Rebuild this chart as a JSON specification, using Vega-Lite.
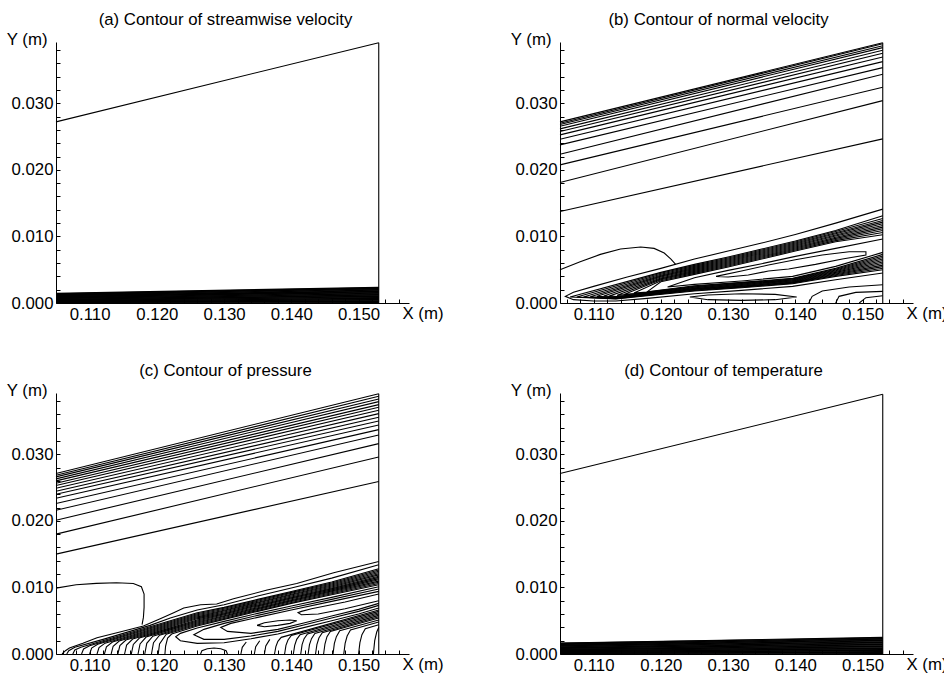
{
"$schema":"https://vega.github.io/schema/vega-lite/v6.json",
"padding":{"left":5,"top":12,"right":0,"bottom":0},
"config":{
 "view":{"stroke":null},
 "font":"Liberation Sans",
 "axis":{"domainColor":"black","tickColor":"black","labelColor":"black","titleColor":"black","labelFont":"Liberation Sans","titleFont":"Liberation Sans","labelFontSize":16.8,"titleFontSize":16.8,"titleFontWeight":"normal","tickSize":-4,"labelPadding":7,"grid":false,"labelOverlap":false,"labelFlush":false,"domainWidth":1,"tickWidth":1},
 "title":{"font":"Liberation Sans","fontSize":16.8,"fontWeight":"normal","color":"black","anchor":"middle","frame":"group","offset":2}
},
"data":{"values":[
{"p":"a","l":"t","s":0,"x":0.105,"y":0.0272},{"p":"a","l":"t","s":1,"x":0.153,"y":0.0391},
{"p":"a","l":"r","s":0,"x":0.153,"y":0},{"p":"a","l":"r","s":1,"x":0.153,"y":0.0391},
{"p":"a","l":"b0","s":0,"x":0.105,"y":0.00003},{"p":"a","l":"b0","s":1,"x":0.153,"y":0.00005},
{"p":"a","l":"b1","s":0,"x":0.105,"y":0.00009},{"p":"a","l":"b1","s":1,"x":0.153,"y":0.00014},
{"p":"a","l":"c1","s":0,"x":0.105,"y":0.00015},{"p":"a","l":"c1","s":1,"x":0.153,"y":0.00024},
{"p":"a","l":"b2","s":0,"x":0.105,"y":0.0002},{"p":"a","l":"b2","s":1,"x":0.153,"y":0.00033},
{"p":"a","l":"c2","s":0,"x":0.105,"y":0.00026},{"p":"a","l":"c2","s":1,"x":0.153,"y":0.00043},
{"p":"a","l":"b3","s":0,"x":0.105,"y":0.00032},{"p":"a","l":"b3","s":1,"x":0.153,"y":0.00052},
{"p":"a","l":"c3","s":0,"x":0.105,"y":0.00038},{"p":"a","l":"c3","s":1,"x":0.153,"y":0.00061},
{"p":"a","l":"b4","s":0,"x":0.105,"y":0.00044},{"p":"a","l":"b4","s":1,"x":0.153,"y":0.0007},
{"p":"a","l":"c4","s":0,"x":0.105,"y":0.0005},{"p":"a","l":"c4","s":1,"x":0.153,"y":0.0008},
{"p":"a","l":"b5","s":0,"x":0.105,"y":0.00055},{"p":"a","l":"b5","s":1,"x":0.153,"y":0.00089},
{"p":"a","l":"c5","s":0,"x":0.105,"y":0.00061},{"p":"a","l":"c5","s":1,"x":0.153,"y":0.00099},
{"p":"a","l":"b6","s":0,"x":0.105,"y":0.00067},{"p":"a","l":"b6","s":1,"x":0.153,"y":0.00108},
{"p":"a","l":"c6","s":0,"x":0.105,"y":0.00073},{"p":"a","l":"c6","s":1,"x":0.153,"y":0.00118},
{"p":"a","l":"b7","s":0,"x":0.105,"y":0.00078},{"p":"a","l":"b7","s":1,"x":0.153,"y":0.00127},
{"p":"a","l":"c7","s":0,"x":0.105,"y":0.00084},{"p":"a","l":"c7","s":1,"x":0.153,"y":0.00137},
{"p":"a","l":"b8","s":0,"x":0.105,"y":0.0009},{"p":"a","l":"b8","s":1,"x":0.153,"y":0.00146},
{"p":"a","l":"c8","s":0,"x":0.105,"y":0.00096},{"p":"a","l":"c8","s":1,"x":0.153,"y":0.00156},
{"p":"a","l":"b9","s":0,"x":0.105,"y":0.00102},{"p":"a","l":"b9","s":1,"x":0.153,"y":0.00165},
{"p":"a","l":"c9","s":0,"x":0.105,"y":0.00108},{"p":"a","l":"c9","s":1,"x":0.153,"y":0.00174},
{"p":"a","l":"b10","s":0,"x":0.105,"y":0.00113},{"p":"a","l":"b10","s":1,"x":0.153,"y":0.00183},
{"p":"a","l":"c10","s":0,"x":0.105,"y":0.00119},{"p":"a","l":"c10","s":1,"x":0.153,"y":0.00193},
{"p":"a","l":"b11","s":0,"x":0.105,"y":0.00125},{"p":"a","l":"b11","s":1,"x":0.153,"y":0.00202},
{"p":"a","l":"c11","s":0,"x":0.105,"y":0.0013},{"p":"a","l":"c11","s":1,"x":0.153,"y":0.00211},
{"p":"a","l":"b12","s":0,"x":0.105,"y":0.00135},{"p":"a","l":"b12","s":1,"x":0.153,"y":0.00219},
{"p":"a","l":"c12","s":0,"x":0.105,"y":0.0014},{"p":"a","l":"c12","s":1,"x":0.153,"y":0.00227},
{"p":"a","l":"b13","s":0,"x":0.105,"y":0.00145},{"p":"a","l":"b13","s":1,"x":0.153,"y":0.00235},

{"p":"d","l":"t","s":0,"x":0.105,"y":0.0271},{"p":"d","l":"t","s":1,"x":0.153,"y":0.039},
{"p":"d","l":"r","s":0,"x":0.153,"y":0},{"p":"d","l":"r","s":1,"x":0.153,"y":0.039},
{"p":"d","l":"b0","s":0,"x":0.105,"y":0.00003},{"p":"d","l":"b0","s":1,"x":0.153,"y":0.00005},
{"p":"d","l":"b1","s":0,"x":0.105,"y":0.0001},{"p":"d","l":"b1","s":1,"x":0.153,"y":0.00015},
{"p":"d","l":"c1","s":0,"x":0.105,"y":0.00017},{"p":"d","l":"c1","s":1,"x":0.153,"y":0.00025},
{"p":"d","l":"b2","s":0,"x":0.105,"y":0.00023},{"p":"d","l":"b2","s":1,"x":0.153,"y":0.00035},
{"p":"d","l":"c2","s":0,"x":0.105,"y":0.0003},{"p":"d","l":"c2","s":1,"x":0.153,"y":0.00045},
{"p":"d","l":"b3","s":0,"x":0.105,"y":0.00036},{"p":"d","l":"b3","s":1,"x":0.153,"y":0.00055},
{"p":"d","l":"c3","s":0,"x":0.105,"y":0.00043},{"p":"d","l":"c3","s":1,"x":0.153,"y":0.00065},
{"p":"d","l":"b4","s":0,"x":0.105,"y":0.0005},{"p":"d","l":"b4","s":1,"x":0.153,"y":0.00075},
{"p":"d","l":"c4","s":0,"x":0.105,"y":0.00057},{"p":"d","l":"c4","s":1,"x":0.153,"y":0.00085},
{"p":"d","l":"b5","s":0,"x":0.105,"y":0.00063},{"p":"d","l":"b5","s":1,"x":0.153,"y":0.00095},
{"p":"d","l":"c5","s":0,"x":0.105,"y":0.0007},{"p":"d","l":"c5","s":1,"x":0.153,"y":0.00105},
{"p":"d","l":"b6","s":0,"x":0.105,"y":0.00076},{"p":"d","l":"b6","s":1,"x":0.153,"y":0.00115},
{"p":"d","l":"c6","s":0,"x":0.105,"y":0.00083},{"p":"d","l":"c6","s":1,"x":0.153,"y":0.00125},
{"p":"d","l":"b7","s":0,"x":0.105,"y":0.00089},{"p":"d","l":"b7","s":1,"x":0.153,"y":0.00135},
{"p":"d","l":"c7","s":0,"x":0.105,"y":0.00096},{"p":"d","l":"c7","s":1,"x":0.153,"y":0.00145},
{"p":"d","l":"b8","s":0,"x":0.105,"y":0.00102},{"p":"d","l":"b8","s":1,"x":0.153,"y":0.00155},
{"p":"d","l":"c8","s":0,"x":0.105,"y":0.00109},{"p":"d","l":"c8","s":1,"x":0.153,"y":0.00165},
{"p":"d","l":"b9","s":0,"x":0.105,"y":0.00116},{"p":"d","l":"b9","s":1,"x":0.153,"y":0.00175},
{"p":"d","l":"c9","s":0,"x":0.105,"y":0.00123},{"p":"d","l":"c9","s":1,"x":0.153,"y":0.00185},
{"p":"d","l":"b10","s":0,"x":0.105,"y":0.00129},{"p":"d","l":"b10","s":1,"x":0.153,"y":0.00195},
{"p":"d","l":"c10","s":0,"x":0.105,"y":0.00136},{"p":"d","l":"c10","s":1,"x":0.153,"y":0.00205},
{"p":"d","l":"b11","s":0,"x":0.105,"y":0.00142},{"p":"d","l":"b11","s":1,"x":0.153,"y":0.00215},
{"p":"d","l":"c11","s":0,"x":0.105,"y":0.00148},{"p":"d","l":"c11","s":1,"x":0.153,"y":0.00224},
{"p":"d","l":"b12","s":0,"x":0.105,"y":0.00153},{"p":"d","l":"b12","s":1,"x":0.153,"y":0.00233},
{"p":"d","l":"c12","s":0,"x":0.105,"y":0.00159},{"p":"d","l":"c12","s":1,"x":0.153,"y":0.00242},
{"p":"d","l":"b13","s":0,"x":0.105,"y":0.00165},{"p":"d","l":"b13","s":1,"x":0.153,"y":0.0025},

{"p":"b","l":"r","s":0,"x":0.153,"y":0},{"p":"b","l":"r","s":1,"x":0.153,"y":0.0391},
{"p":"b","l":"u1","s":0,"x":0.105,"y":0.0272},{"p":"b","l":"u1","s":1,"x":0.153,"y":0.0391},
{"p":"b","l":"u2","s":0,"x":0.105,"y":0.027},{"p":"b","l":"u2","s":1,"x":0.153,"y":0.03895},
{"p":"b","l":"u3","s":0,"x":0.105,"y":0.0268},{"p":"b","l":"u3","s":1,"x":0.153,"y":0.03865},
{"p":"b","l":"u4","s":0,"x":0.105,"y":0.02655},{"p":"b","l":"u4","s":1,"x":0.153,"y":0.03835},
{"p":"b","l":"u5","s":0,"x":0.105,"y":0.02615},{"p":"b","l":"u5","s":1,"x":0.153,"y":0.03795},
{"p":"b","l":"u6","s":0,"x":0.105,"y":0.02575},{"p":"b","l":"u6","s":1,"x":0.153,"y":0.0375},
{"p":"b","l":"u7","s":0,"x":0.105,"y":0.02525},{"p":"b","l":"u7","s":1,"x":0.153,"y":0.03695},
{"p":"b","l":"u8","s":0,"x":0.105,"y":0.0246},{"p":"b","l":"u8","s":1,"x":0.153,"y":0.03625},
{"p":"b","l":"u9","s":0,"x":0.105,"y":0.02375},{"p":"b","l":"u9","s":1,"x":0.153,"y":0.03535},
{"p":"b","l":"u10","s":0,"x":0.105,"y":0.02235},{"p":"b","l":"u10","s":1,"x":0.153,"y":0.03435},
{"p":"b","l":"u11","s":0,"x":0.105,"y":0.02075},{"p":"b","l":"u11","s":1,"x":0.153,"y":0.0324},
{"p":"b","l":"u12","s":0,"x":0.105,"y":0.0181},{"p":"b","l":"u12","s":1,"x":0.153,"y":0.0304},
{"p":"b","l":"u13","s":0,"x":0.105,"y":0.01375},{"p":"b","l":"u13","s":1,"x":0.153,"y":0.02465},
{"p":"b","l":"bump","s":0,"x":0.105,"y":0.005},{"p":"b","l":"bump","s":1,"x":0.108,"y":0.0062},{"p":"b","l":"bump","s":2,"x":0.111,"y":0.0073},{"p":"b","l":"bump","s":3,"x":0.114,"y":0.0081},{"p":"b","l":"bump","s":4,"x":0.117,"y":0.0084},{"p":"b","l":"bump","s":5,"x":0.119,"y":0.0082},{"p":"b","l":"bump","s":6,"x":0.1205,"y":0.0075},{"p":"b","l":"bump","s":7,"x":0.1215,"y":0.0066},{"p":"b","l":"bump","s":8,"x":0.1222,"y":0.0058},
{"p":"b","l":"k1","s":0,"x":0.153,"y":0.0141},{"p":"b","l":"k1","s":1,"x":0.146,"y":0.012},{"p":"b","l":"k1","s":2,"x":0.14,"y":0.0103},{"p":"b","l":"k1","s":3,"x":0.135,"y":0.009},{"p":"b","l":"k1","s":4,"x":0.13,"y":0.0078},{"p":"b","l":"k1","s":5,"x":0.125,"y":0.0066},{"p":"b","l":"k1","s":6,"x":0.12,"y":0.0052},{"p":"b","l":"k1","s":7,"x":0.115,"y":0.0039},{"p":"b","l":"k1","s":8,"x":0.11,"y":0.0025},{"p":"b","l":"k1","s":9,"x":0.107,"y":0.0016},{"p":"b","l":"k1","s":10,"x":0.1058,"y":0.001},{"p":"b","l":"k1","s":11,"x":0.107,"y":0.0005},{"p":"b","l":"k1","s":12,"x":0.11,"y":0.0003},{"p":"b","l":"k1","s":13,"x":0.1133,"y":0.0003},{"p":"b","l":"k1","s":14,"x":0.118,"y":0.0007},{"p":"b","l":"k1","s":15,"x":0.125,"y":0.0014},{"p":"b","l":"k1","s":16,"x":0.132,"y":0.0019},{"p":"b","l":"k1","s":17,"x":0.1396,"y":0.0025},{"p":"b","l":"k1","s":18,"x":0.146,"y":0.0035},{"p":"b","l":"k1","s":19,"x":0.153,"y":0.0045},
{"p":"b","l":"k2","s":0,"x":0.153,"y":0.0131},{"p":"b","l":"k2","s":1,"x":0.146,"y":0.0109},{"p":"b","l":"k2","s":2,"x":0.14,"y":0.0093},{"p":"b","l":"k2","s":3,"x":0.135,"y":0.0081},{"p":"b","l":"k2","s":4,"x":0.13,"y":0.0069},{"p":"b","l":"k2","s":5,"x":0.125,"y":0.0058},{"p":"b","l":"k2","s":6,"x":0.12,"y":0.0046},{"p":"b","l":"k2","s":7,"x":0.1065,"y":0.0009},{"p":"b","l":"k2","s":8,"x":0.1133,"y":0.0006},{"p":"b","l":"k2","s":9,"x":0.118,"y":0.0011},{"p":"b","l":"k2","s":10,"x":0.125,"y":0.0018},{"p":"b","l":"k2","s":11,"x":0.132,"y":0.0023},{"p":"b","l":"k2","s":12,"x":0.1396,"y":0.0029},{"p":"b","l":"k2","s":13,"x":0.146,"y":0.004},{"p":"b","l":"k2","s":14,"x":0.153,"y":0.005},
{"p":"b","l":"k3","s":0,"x":0.153,"y":0.0127},{"p":"b","l":"k3","s":1,"x":0.146,"y":0.01073},{"p":"b","l":"k3","s":2,"x":0.14,"y":0.00915},{"p":"b","l":"k3","s":3,"x":0.135,"y":0.00795},{"p":"b","l":"k3","s":4,"x":0.13,"y":0.00675},{"p":"b","l":"k3","s":5,"x":0.125,"y":0.00565},{"p":"b","l":"k3","s":6,"x":0.12,"y":0.00446},{"p":"b","l":"k3","s":7,"x":0.1075,"y":0.0009},{"p":"b","l":"k3","s":8,"x":0.1133,"y":0.00066},{"p":"b","l":"k3","s":9,"x":0.118,"y":0.00116},{"p":"b","l":"k3","s":10,"x":0.125,"y":0.00188},{"p":"b","l":"k3","s":11,"x":0.132,"y":0.00238},{"p":"b","l":"k3","s":12,"x":0.1396,"y":0.00298},{"p":"b","l":"k3","s":13,"x":0.146,"y":0.00412},{"p":"b","l":"k3","s":14,"x":0.153,"y":0.00523},
{"p":"b","l":"k4","s":0,"x":0.153,"y":0.0124},{"p":"b","l":"k4","s":1,"x":0.146,"y":0.01056},{"p":"b","l":"k4","s":2,"x":0.14,"y":0.009},{"p":"b","l":"k4","s":3,"x":0.135,"y":0.0078},{"p":"b","l":"k4","s":4,"x":0.13,"y":0.0066},{"p":"b","l":"k4","s":5,"x":0.125,"y":0.0055},{"p":"b","l":"k4","s":6,"x":0.12,"y":0.00432},{"p":"b","l":"k4","s":7,"x":0.1085,"y":0.0009},{"p":"b","l":"k4","s":8,"x":0.1133,"y":0.00072},{"p":"b","l":"k4","s":9,"x":0.118,"y":0.00122},{"p":"b","l":"k4","s":10,"x":0.125,"y":0.00196},{"p":"b","l":"k4","s":11,"x":0.132,"y":0.00246},{"p":"b","l":"k4","s":12,"x":0.1396,"y":0.00306},{"p":"b","l":"k4","s":13,"x":0.146,"y":0.00424},{"p":"b","l":"k4","s":14,"x":0.153,"y":0.00546},
{"p":"b","l":"k5","s":0,"x":0.153,"y":0.01215},{"p":"b","l":"k5","s":1,"x":0.146,"y":0.01039},{"p":"b","l":"k5","s":2,"x":0.14,"y":0.00885},{"p":"b","l":"k5","s":3,"x":0.135,"y":0.00765},{"p":"b","l":"k5","s":4,"x":0.13,"y":0.00645},{"p":"b","l":"k5","s":5,"x":0.125,"y":0.00535},{"p":"b","l":"k5","s":6,"x":0.12,"y":0.00418},{"p":"b","l":"k5","s":7,"x":0.1095,"y":0.00095},{"p":"b","l":"k5","s":8,"x":0.1133,"y":0.00078},{"p":"b","l":"k5","s":9,"x":0.118,"y":0.00128},{"p":"b","l":"k5","s":10,"x":0.125,"y":0.00204},{"p":"b","l":"k5","s":11,"x":0.132,"y":0.00254},{"p":"b","l":"k5","s":12,"x":0.1396,"y":0.00314},{"p":"b","l":"k5","s":13,"x":0.146,"y":0.00436},{"p":"b","l":"k5","s":14,"x":0.153,"y":0.00569},
{"p":"b","l":"k6","s":0,"x":0.153,"y":0.0119},{"p":"b","l":"k6","s":1,"x":0.146,"y":0.01022},{"p":"b","l":"k6","s":2,"x":0.14,"y":0.0087},{"p":"b","l":"k6","s":3,"x":0.135,"y":0.0075},{"p":"b","l":"k6","s":4,"x":0.13,"y":0.0063},{"p":"b","l":"k6","s":5,"x":0.125,"y":0.0052},{"p":"b","l":"k6","s":6,"x":0.12,"y":0.00404},{"p":"b","l":"k6","s":7,"x":0.1105,"y":0.001},{"p":"b","l":"k6","s":8,"x":0.1133,"y":0.00084},{"p":"b","l":"k6","s":9,"x":0.118,"y":0.00134},{"p":"b","l":"k6","s":10,"x":0.125,"y":0.00212},{"p":"b","l":"k6","s":11,"x":0.132,"y":0.00262},{"p":"b","l":"k6","s":12,"x":0.1396,"y":0.00322},{"p":"b","l":"k6","s":13,"x":0.146,"y":0.00448},{"p":"b","l":"k6","s":14,"x":0.153,"y":0.00592},
{"p":"b","l":"k7","s":0,"x":0.153,"y":0.01165},{"p":"b","l":"k7","s":1,"x":0.146,"y":0.01005},{"p":"b","l":"k7","s":2,"x":0.14,"y":0.00855},{"p":"b","l":"k7","s":3,"x":0.135,"y":0.00735},{"p":"b","l":"k7","s":4,"x":0.13,"y":0.00615},{"p":"b","l":"k7","s":5,"x":0.125,"y":0.00505},{"p":"b","l":"k7","s":6,"x":0.12,"y":0.0039},{"p":"b","l":"k7","s":7,"x":0.1115,"y":0.00105},{"p":"b","l":"k7","s":8,"x":0.1133,"y":0.0009},{"p":"b","l":"k7","s":9,"x":0.118,"y":0.0014},{"p":"b","l":"k7","s":10,"x":0.125,"y":0.0022},{"p":"b","l":"k7","s":11,"x":0.132,"y":0.0027},{"p":"b","l":"k7","s":12,"x":0.1396,"y":0.0033},{"p":"b","l":"k7","s":13,"x":0.146,"y":0.0046},{"p":"b","l":"k7","s":14,"x":0.153,"y":0.00615},
{"p":"b","l":"k8","s":0,"x":0.153,"y":0.0114},{"p":"b","l":"k8","s":1,"x":0.146,"y":0.00988},{"p":"b","l":"k8","s":2,"x":0.14,"y":0.0084},{"p":"b","l":"k8","s":3,"x":0.135,"y":0.0072},{"p":"b","l":"k8","s":4,"x":0.13,"y":0.006},{"p":"b","l":"k8","s":5,"x":0.125,"y":0.0049},{"p":"b","l":"k8","s":6,"x":0.12,"y":0.00376},{"p":"b","l":"k8","s":7,"x":0.1125,"y":0.0011},{"p":"b","l":"k8","s":8,"x":0.1133,"y":0.00096},{"p":"b","l":"k8","s":9,"x":0.118,"y":0.00146},{"p":"b","l":"k8","s":10,"x":0.125,"y":0.00228},{"p":"b","l":"k8","s":11,"x":0.132,"y":0.00278},{"p":"b","l":"k8","s":12,"x":0.1396,"y":0.00338},{"p":"b","l":"k8","s":13,"x":0.146,"y":0.00472},{"p":"b","l":"k8","s":14,"x":0.153,"y":0.00638},
{"p":"b","l":"k9","s":0,"x":0.153,"y":0.01115},{"p":"b","l":"k9","s":1,"x":0.146,"y":0.00971},{"p":"b","l":"k9","s":2,"x":0.14,"y":0.00825},{"p":"b","l":"k9","s":3,"x":0.135,"y":0.00705},{"p":"b","l":"k9","s":4,"x":0.13,"y":0.00585},{"p":"b","l":"k9","s":5,"x":0.125,"y":0.00475},{"p":"b","l":"k9","s":6,"x":0.12,"y":0.00362},{"p":"b","l":"k9","s":7,"x":0.1135,"y":0.00115},{"p":"b","l":"k9","s":8,"x":0.118,"y":0.00152},{"p":"b","l":"k9","s":9,"x":0.125,"y":0.00236},{"p":"b","l":"k9","s":10,"x":0.132,"y":0.00286},{"p":"b","l":"k9","s":11,"x":0.1396,"y":0.00346},{"p":"b","l":"k9","s":12,"x":0.146,"y":0.00484},{"p":"b","l":"k9","s":13,"x":0.153,"y":0.00661},
{"p":"b","l":"k10","s":0,"x":0.153,"y":0.0109},{"p":"b","l":"k10","s":1,"x":0.146,"y":0.00954},{"p":"b","l":"k10","s":2,"x":0.14,"y":0.0081},{"p":"b","l":"k10","s":3,"x":0.135,"y":0.0069},{"p":"b","l":"k10","s":4,"x":0.13,"y":0.0057},{"p":"b","l":"k10","s":5,"x":0.125,"y":0.0046},{"p":"b","l":"k10","s":6,"x":0.12,"y":0.00348},{"p":"b","l":"k10","s":7,"x":0.1145,"y":0.00128},{"p":"b","l":"k10","s":8,"x":0.118,"y":0.00158},{"p":"b","l":"k10","s":9,"x":0.125,"y":0.00244},{"p":"b","l":"k10","s":10,"x":0.132,"y":0.00294},{"p":"b","l":"k10","s":11,"x":0.1396,"y":0.00354},{"p":"b","l":"k10","s":12,"x":0.146,"y":0.00496},{"p":"b","l":"k10","s":13,"x":0.153,"y":0.00684},
{"p":"b","l":"k11","s":0,"x":0.153,"y":0.0106},{"p":"b","l":"k11","s":1,"x":0.146,"y":0.00937},{"p":"b","l":"k11","s":2,"x":0.14,"y":0.00795},{"p":"b","l":"k11","s":3,"x":0.135,"y":0.00675},{"p":"b","l":"k11","s":4,"x":0.13,"y":0.00555},{"p":"b","l":"k11","s":5,"x":0.125,"y":0.00445},{"p":"b","l":"k11","s":6,"x":0.12,"y":0.00334},{"p":"b","l":"k11","s":7,"x":0.116,"y":0.0015},{"p":"b","l":"k11","s":8,"x":0.118,"y":0.00164},{"p":"b","l":"k11","s":9,"x":0.125,"y":0.00252},{"p":"b","l":"k11","s":10,"x":0.132,"y":0.00302},{"p":"b","l":"k11","s":11,"x":0.1396,"y":0.00362},{"p":"b","l":"k11","s":12,"x":0.146,"y":0.00508},{"p":"b","l":"k11","s":13,"x":0.153,"y":0.00707},
{"p":"b","l":"k12","s":0,"x":0.153,"y":0.01025},{"p":"b","l":"k12","s":1,"x":0.146,"y":0.0092},{"p":"b","l":"k12","s":2,"x":0.14,"y":0.0078},{"p":"b","l":"k12","s":3,"x":0.135,"y":0.0066},{"p":"b","l":"k12","s":4,"x":0.13,"y":0.0054},{"p":"b","l":"k12","s":5,"x":0.125,"y":0.0043},{"p":"b","l":"k12","s":6,"x":0.12,"y":0.0032},{"p":"b","l":"k12","s":7,"x":0.118,"y":0.0017},{"p":"b","l":"k12","s":8,"x":0.125,"y":0.0026},{"p":"b","l":"k12","s":9,"x":0.132,"y":0.0031},{"p":"b","l":"k12","s":10,"x":0.1396,"y":0.0037},{"p":"b","l":"k12","s":11,"x":0.146,"y":0.0052},{"p":"b","l":"k12","s":12,"x":0.153,"y":0.0073},
{"p":"b","l":"k13","s":0,"x":0.153,"y":0.0096},{"p":"b","l":"k13","s":1,"x":0.146,"y":0.0082},{"p":"b","l":"k13","s":2,"x":0.14,"y":0.007},{"p":"b","l":"k13","s":3,"x":0.135,"y":0.0059},{"p":"b","l":"k13","s":4,"x":0.13,"y":0.0049},{"p":"b","l":"k13","s":5,"x":0.125,"y":0.0038},{"p":"b","l":"k13","s":6,"x":0.121,"y":0.0024},{"p":"b","l":"k13","s":7,"x":0.125,"y":0.0028},{"p":"b","l":"k13","s":8,"x":0.132,"y":0.0033},{"p":"b","l":"k13","s":9,"x":0.1396,"y":0.004},{"p":"b","l":"k13","s":10,"x":0.146,"y":0.0055},{"p":"b","l":"k13","s":11,"x":0.153,"y":0.0076},
{"p":"b","l":"k14","s":0,"x":0.1282,"y":0.004},{"p":"b","l":"k14","s":1,"x":0.132,"y":0.0048},{"p":"b","l":"k14","s":2,"x":0.136,"y":0.0057},{"p":"b","l":"k14","s":3,"x":0.14,"y":0.0065},{"p":"b","l":"k14","s":4,"x":0.144,"y":0.0072},{"p":"b","l":"k14","s":5,"x":0.148,"y":0.0077},{"p":"b","l":"k14","s":6,"x":0.1505,"y":0.0077},{"p":"b","l":"k14","s":7,"x":0.1505,"y":0.0072},{"p":"b","l":"k14","s":8,"x":0.147,"y":0.0066},{"p":"b","l":"k14","s":9,"x":0.143,"y":0.0058},{"p":"b","l":"k14","s":10,"x":0.139,"y":0.0051},{"p":"b","l":"k14","s":11,"x":0.136,"y":0.0048},{"p":"b","l":"k14","s":12,"x":0.133,"y":0.0042},{"p":"b","l":"k14","s":13,"x":0.13,"y":0.0039},{"p":"b","l":"k14","s":14,"x":0.1282,"y":0.004},
{"p":"b","l":"lb","s":0,"x":0.1243,"y":0.0009},{"p":"b","l":"lb","s":1,"x":0.127,"y":0.0012},{"p":"b","l":"lb","s":2,"x":0.132,"y":0.0014},{"p":"b","l":"lb","s":3,"x":0.137,"y":0.0013},{"p":"b","l":"lb","s":4,"x":0.1402,"y":0.0009},{"p":"b","l":"lb","s":5,"x":0.137,"y":0.0005},{"p":"b","l":"lb","s":6,"x":0.132,"y":0.0004},{"p":"b","l":"lb","s":7,"x":0.127,"y":0.0005},{"p":"b","l":"lb","s":8,"x":0.1243,"y":0.0009},
{"p":"b","l":"w1","s":0,"x":0.142,"y":0},{"p":"b","l":"w1","s":1,"x":0.1425,"y":0.001},{"p":"b","l":"w1","s":2,"x":0.144,"y":0.0018},{"p":"b","l":"w1","s":3,"x":0.148,"y":0.0024},{"p":"b","l":"w1","s":4,"x":0.153,"y":0.00275},
{"p":"b","l":"w2","s":0,"x":0.146,"y":0},{"p":"b","l":"w2","s":1,"x":0.1465,"y":0.001},{"p":"b","l":"w2","s":2,"x":0.149,"y":0.0016},{"p":"b","l":"w2","s":3,"x":0.153,"y":0.00175},
{"p":"b","l":"w3","s":0,"x":0.1495,"y":0},{"p":"b","l":"w3","s":1,"x":0.1505,"y":0.0008},{"p":"b","l":"w3","s":2,"x":0.153,"y":0.0011},

{"p":"c","l":"r","s":0,"x":0.153,"y":0},{"p":"c","l":"r","s":1,"x":0.153,"y":0.0391},
{"p":"c","l":"u1","s":0,"x":0.105,"y":0.0271},{"p":"c","l":"u1","s":1,"x":0.153,"y":0.0391},
{"p":"c","l":"u2","s":0,"x":0.105,"y":0.02685},{"p":"c","l":"u2","s":1,"x":0.153,"y":0.0387},
{"p":"c","l":"u3","s":0,"x":0.105,"y":0.0266},{"p":"c","l":"u3","s":1,"x":0.153,"y":0.0383},
{"p":"c","l":"u4","s":0,"x":0.105,"y":0.0263},{"p":"c","l":"u4","s":1,"x":0.153,"y":0.0379},
{"p":"c","l":"u5","s":0,"x":0.105,"y":0.026},{"p":"c","l":"u5","s":1,"x":0.153,"y":0.03745},
{"p":"c","l":"u6","s":0,"x":0.105,"y":0.02565},{"p":"c","l":"u6","s":1,"x":0.153,"y":0.03705},
{"p":"c","l":"u7","s":0,"x":0.105,"y":0.0253},{"p":"c","l":"u7","s":1,"x":0.153,"y":0.0366},
{"p":"c","l":"u8","s":0,"x":0.105,"y":0.0249},{"p":"c","l":"u8","s":1,"x":0.153,"y":0.0361},
{"p":"c","l":"u9","s":0,"x":0.105,"y":0.02445},{"p":"c","l":"u9","s":1,"x":0.153,"y":0.03555},
{"p":"c","l":"u10","s":0,"x":0.105,"y":0.024},{"p":"c","l":"u10","s":1,"x":0.153,"y":0.035},
{"p":"c","l":"u11","s":0,"x":0.105,"y":0.0234},{"p":"c","l":"u11","s":1,"x":0.153,"y":0.0344},
{"p":"c","l":"u12","s":0,"x":0.105,"y":0.0226},{"p":"c","l":"u12","s":1,"x":0.153,"y":0.0337},
{"p":"c","l":"u13","s":0,"x":0.105,"y":0.0216},{"p":"c","l":"u13","s":1,"x":0.153,"y":0.0329},
{"p":"c","l":"u14","s":0,"x":0.105,"y":0.0201},{"p":"c","l":"u14","s":1,"x":0.153,"y":0.0316},
{"p":"c","l":"u15","s":0,"x":0.105,"y":0.018},{"p":"c","l":"u15","s":1,"x":0.153,"y":0.0296},
{"p":"c","l":"u16","s":0,"x":0.105,"y":0.015},{"p":"c","l":"u16","s":1,"x":0.153,"y":0.0259},
{"p":"c","l":"box","s":0,"x":0.105,"y":0.0099},{"p":"c","l":"box","s":1,"x":0.108,"y":0.0104},{"p":"c","l":"box","s":2,"x":0.111,"y":0.0106},{"p":"c","l":"box","s":3,"x":0.114,"y":0.0107},{"p":"c","l":"box","s":4,"x":0.1165,"y":0.0106},{"p":"c","l":"box","s":5,"x":0.1177,"y":0.0101},{"p":"c","l":"box","s":6,"x":0.1181,"y":0.009},{"p":"c","l":"box","s":7,"x":0.1181,"y":0.007},{"p":"c","l":"box","s":8,"x":0.118,"y":0.0055},{"p":"c","l":"box","s":9,"x":0.1178,"y":0.0044},
{"p":"c","l":"out","s":0,"x":0.1059,"y":0},{"p":"c","l":"out","s":1,"x":0.1064,"y":0.0005},{"p":"c","l":"out","s":2,"x":0.107,"y":0.0009},{"p":"c","l":"out","s":3,"x":0.109,"y":0.0016},{"p":"c","l":"out","s":4,"x":0.1111,"y":0.00245},{"p":"c","l":"out","s":5,"x":0.1145,"y":0.0033},{"p":"c","l":"out","s":6,"x":0.118,"y":0.0042},{"p":"c","l":"out","s":7,"x":0.1205,"y":0.0053},{"p":"c","l":"out","s":8,"x":0.1225,"y":0.0062},{"p":"c","l":"out","s":9,"x":0.124,"y":0.0069},{"p":"c","l":"out","s":10,"x":0.1265,"y":0.0074},{"p":"c","l":"out","s":11,"x":0.1289,"y":0.0075},{"p":"c","l":"out","s":12,"x":0.1314,"y":0.0083},{"p":"c","l":"out","s":13,"x":0.1364,"y":0.0096},{"p":"c","l":"out","s":14,"x":0.1408,"y":0.0106},{"p":"c","l":"out","s":15,"x":0.1463,"y":0.0122},{"p":"c","l":"out","s":16,"x":0.153,"y":0.0139},
{"p":"c","l":"p1","s":0,"x":0.1066,"y":0},{"p":"c","l":"p1","s":1,"x":0.1069,"y":0.0005},{"p":"c","l":"p1","s":2,"x":0.1078,"y":0.001},{"p":"c","l":"p1","s":3,"x":0.112,"y":0.0022},{"p":"c","l":"p1","s":4,"x":0.116,"y":0.0034},{"p":"c","l":"p1","s":5,"x":0.119,"y":0.0043},{"p":"c","l":"p1","s":6,"x":0.122,"y":0.0054},{"p":"c","l":"p1","s":7,"x":0.126,"y":0.0066},{"p":"c","l":"p1","s":8,"x":0.13,"y":0.0074},{"p":"c","l":"p1","s":9,"x":0.135,"y":0.0087},{"p":"c","l":"p1","s":10,"x":0.14,"y":0.0099},{"p":"c","l":"p1","s":11,"x":0.146,"y":0.0114},{"p":"c","l":"p1","s":12,"x":0.153,"y":0.0134},
{"p":"c","l":"A1","s":0,"x":0.1075,"y":0},{"p":"c","l":"A1","s":1,"x":0.1078,"y":0.0006},{"p":"c","l":"A1","s":2,"x":0.1087,"y":0.001},{"p":"c","l":"A1","s":3,"x":0.122,"y":0.005},{"p":"c","l":"A1","s":4,"x":0.126,"y":0.0062},{"p":"c","l":"A1","s":5,"x":0.13,"y":0.007},{"p":"c","l":"A1","s":6,"x":0.135,"y":0.0082},{"p":"c","l":"A1","s":7,"x":0.14,"y":0.0094},{"p":"c","l":"A1","s":8,"x":0.146,"y":0.0108},{"p":"c","l":"A1","s":9,"x":0.153,"y":0.0128},
{"p":"c","l":"A2","s":0,"x":0.1088,"y":0},{"p":"c","l":"A2","s":1,"x":0.1091,"y":0.00075},{"p":"c","l":"A2","s":2,"x":0.11,"y":0.00125},{"p":"c","l":"A2","s":3,"x":0.122,"y":0.00485},{"p":"c","l":"A2","s":4,"x":0.126,"y":0.00605},{"p":"c","l":"A2","s":5,"x":0.13,"y":0.00686},{"p":"c","l":"A2","s":6,"x":0.135,"y":0.00806},{"p":"c","l":"A2","s":7,"x":0.14,"y":0.00926},{"p":"c","l":"A2","s":8,"x":0.146,"y":0.01065},{"p":"c","l":"A2","s":9,"x":0.153,"y":0.01262},
{"p":"c","l":"A3","s":0,"x":0.11,"y":0},{"p":"c","l":"A3","s":1,"x":0.1103,"y":0.00088},{"p":"c","l":"A3","s":2,"x":0.1112,"y":0.00146},{"p":"c","l":"A3","s":3,"x":0.122,"y":0.0047},{"p":"c","l":"A3","s":4,"x":0.126,"y":0.00589},{"p":"c","l":"A3","s":5,"x":0.13,"y":0.00672},{"p":"c","l":"A3","s":6,"x":0.135,"y":0.00792},{"p":"c","l":"A3","s":7,"x":0.14,"y":0.00912},{"p":"c","l":"A3","s":8,"x":0.146,"y":0.01051},{"p":"c","l":"A3","s":9,"x":0.153,"y":0.01243},
{"p":"c","l":"A4","s":0,"x":0.1111,"y":0},{"p":"c","l":"A4","s":1,"x":0.1114,"y":0.00098},{"p":"c","l":"A4","s":2,"x":0.1123,"y":0.00163},{"p":"c","l":"A4","s":3,"x":0.122,"y":0.00454},{"p":"c","l":"A4","s":4,"x":0.126,"y":0.00574},{"p":"c","l":"A4","s":5,"x":0.13,"y":0.00658},{"p":"c","l":"A4","s":6,"x":0.135,"y":0.00778},{"p":"c","l":"A4","s":7,"x":0.14,"y":0.00898},{"p":"c","l":"A4","s":8,"x":0.146,"y":0.01036},{"p":"c","l":"A4","s":9,"x":0.153,"y":0.01225},
{"p":"c","l":"A5","s":0,"x":0.1122,"y":0},{"p":"c","l":"A5","s":1,"x":0.1125,"y":0.00108},{"p":"c","l":"A5","s":2,"x":0.1134,"y":0.0018},{"p":"c","l":"A5","s":3,"x":0.122,"y":0.00438},{"p":"c","l":"A5","s":4,"x":0.126,"y":0.00558},{"p":"c","l":"A5","s":5,"x":0.13,"y":0.00645},{"p":"c","l":"A5","s":6,"x":0.135,"y":0.00765},{"p":"c","l":"A5","s":7,"x":0.14,"y":0.00885},{"p":"c","l":"A5","s":8,"x":0.146,"y":0.01022},{"p":"c","l":"A5","s":9,"x":0.153,"y":0.01206},
{"p":"c","l":"A6","s":0,"x":0.1132,"y":0},{"p":"c","l":"A6","s":1,"x":0.1135,"y":0.00117},{"p":"c","l":"A6","s":2,"x":0.1144,"y":0.00195},{"p":"c","l":"A6","s":3,"x":0.122,"y":0.00423},{"p":"c","l":"A6","s":4,"x":0.126,"y":0.00543},{"p":"c","l":"A6","s":5,"x":0.13,"y":0.00631},{"p":"c","l":"A6","s":6,"x":0.135,"y":0.00751},{"p":"c","l":"A6","s":7,"x":0.14,"y":0.00871},{"p":"c","l":"A6","s":8,"x":0.146,"y":0.01007},{"p":"c","l":"A6","s":9,"x":0.153,"y":0.01188},
{"p":"c","l":"A7","s":0,"x":0.1142,"y":0},{"p":"c","l":"A7","s":1,"x":0.1145,"y":0.00126},{"p":"c","l":"A7","s":2,"x":0.1154,"y":0.0021},{"p":"c","l":"A7","s":3,"x":0.122,"y":0.00408},{"p":"c","l":"A7","s":4,"x":0.126,"y":0.00528},{"p":"c","l":"A7","s":5,"x":0.13,"y":0.00617},{"p":"c","l":"A7","s":6,"x":0.135,"y":0.00737},{"p":"c","l":"A7","s":7,"x":0.14,"y":0.00857},{"p":"c","l":"A7","s":8,"x":0.146,"y":0.00992},{"p":"c","l":"A7","s":9,"x":0.153,"y":0.01169},
{"p":"c","l":"A8","s":0,"x":0.1152,"y":0},{"p":"c","l":"A8","s":1,"x":0.1155,"y":0.00134},{"p":"c","l":"A8","s":2,"x":0.1164,"y":0.00224},{"p":"c","l":"A8","s":3,"x":0.122,"y":0.00392},{"p":"c","l":"A8","s":4,"x":0.126,"y":0.00512},{"p":"c","l":"A8","s":5,"x":0.13,"y":0.00603},{"p":"c","l":"A8","s":6,"x":0.135,"y":0.00723},{"p":"c","l":"A8","s":7,"x":0.14,"y":0.00843},{"p":"c","l":"A8","s":8,"x":0.146,"y":0.00978},{"p":"c","l":"A8","s":9,"x":0.153,"y":0.01151},
{"p":"c","l":"A9","s":0,"x":0.1162,"y":0},{"p":"c","l":"A9","s":1,"x":0.1165,"y":0.00143},{"p":"c","l":"A9","s":2,"x":0.1174,"y":0.00239},{"p":"c","l":"A9","s":3,"x":0.122,"y":0.00377},{"p":"c","l":"A9","s":4,"x":0.126,"y":0.00497},{"p":"c","l":"A9","s":5,"x":0.13,"y":0.00589},{"p":"c","l":"A9","s":6,"x":0.135,"y":0.00709},{"p":"c","l":"A9","s":7,"x":0.14,"y":0.00829},{"p":"c","l":"A9","s":8,"x":0.146,"y":0.00963},{"p":"c","l":"A9","s":9,"x":0.153,"y":0.01132},
{"p":"c","l":"A10","s":0,"x":0.1172,"y":0},{"p":"c","l":"A10","s":1,"x":0.1175,"y":0.00152},{"p":"c","l":"A10","s":2,"x":0.1184,"y":0.00254},{"p":"c","l":"A10","s":3,"x":0.122,"y":0.00362},{"p":"c","l":"A10","s":4,"x":0.126,"y":0.00482},{"p":"c","l":"A10","s":5,"x":0.13,"y":0.00575},{"p":"c","l":"A10","s":6,"x":0.135,"y":0.00695},{"p":"c","l":"A10","s":7,"x":0.14,"y":0.00815},{"p":"c","l":"A10","s":8,"x":0.146,"y":0.00948},{"p":"c","l":"A10","s":9,"x":0.153,"y":0.01114},
{"p":"c","l":"A11","s":0,"x":0.1182,"y":0},{"p":"c","l":"A11","s":1,"x":0.1185,"y":0.00161},{"p":"c","l":"A11","s":2,"x":0.1194,"y":0.00268},{"p":"c","l":"A11","s":3,"x":0.122,"y":0.00346},{"p":"c","l":"A11","s":4,"x":0.126,"y":0.00466},{"p":"c","l":"A11","s":5,"x":0.13,"y":0.00562},{"p":"c","l":"A11","s":6,"x":0.135,"y":0.00682},{"p":"c","l":"A11","s":7,"x":0.14,"y":0.00802},{"p":"c","l":"A11","s":8,"x":0.146,"y":0.00934},{"p":"c","l":"A11","s":9,"x":0.153,"y":0.01095},
{"p":"c","l":"A12","s":0,"x":0.1192,"y":0},{"p":"c","l":"A12","s":1,"x":0.1195,"y":0.0017},{"p":"c","l":"A12","s":2,"x":0.1204,"y":0.00283},{"p":"c","l":"A12","s":3,"x":0.122,"y":0.00331},{"p":"c","l":"A12","s":4,"x":0.126,"y":0.00451},{"p":"c","l":"A12","s":5,"x":0.13,"y":0.00548},{"p":"c","l":"A12","s":6,"x":0.135,"y":0.00668},{"p":"c","l":"A12","s":7,"x":0.14,"y":0.00788},{"p":"c","l":"A12","s":8,"x":0.146,"y":0.00919},{"p":"c","l":"A12","s":9,"x":0.153,"y":0.01077},
{"p":"c","l":"A13","s":0,"x":0.1202,"y":0},{"p":"c","l":"A13","s":1,"x":0.1204,"y":0.0015},{"p":"c","l":"A13","s":2,"x":0.1214,"y":0.00297},{"p":"c","l":"A13","s":3,"x":0.122,"y":0.00315},{"p":"c","l":"A13","s":4,"x":0.126,"y":0.00435},{"p":"c","l":"A13","s":5,"x":0.13,"y":0.00534},{"p":"c","l":"A13","s":6,"x":0.135,"y":0.00654},{"p":"c","l":"A13","s":7,"x":0.14,"y":0.00774},{"p":"c","l":"A13","s":8,"x":0.146,"y":0.00905},{"p":"c","l":"A13","s":9,"x":0.153,"y":0.01058},
{"p":"c","l":"A14","s":0,"x":0.1212,"y":0},{"p":"c","l":"A14","s":1,"x":0.1213,"y":0.0012},{"p":"c","l":"A14","s":2,"x":0.1216,"y":0.0024},{"p":"c","l":"A14","s":3,"x":0.1222,"y":0.003},{"p":"c","l":"A14","s":4,"x":0.126,"y":0.0042},{"p":"c","l":"A14","s":5,"x":0.13,"y":0.0052},{"p":"c","l":"A14","s":6,"x":0.135,"y":0.0064},{"p":"c","l":"A14","s":7,"x":0.14,"y":0.0076},{"p":"c","l":"A14","s":8,"x":0.146,"y":0.0089},{"p":"c","l":"A14","s":9,"x":0.153,"y":0.0104},
{"p":"c","l":"m1","s":0,"x":0.153,"y":0.0101},{"p":"c","l":"m1","s":1,"x":0.146,"y":0.0085},{"p":"c","l":"m1","s":2,"x":0.14,"y":0.0072},{"p":"c","l":"m1","s":3,"x":0.135,"y":0.0061},{"p":"c","l":"m1","s":4,"x":0.13,"y":0.0049},{"p":"c","l":"m1","s":5,"x":0.126,"y":0.0039},{"p":"c","l":"m1","s":6,"x":0.1235,"y":0.0031},{"p":"c","l":"m1","s":7,"x":0.1228,"y":0.0026},{"p":"c","l":"m1","s":8,"x":0.1235,"y":0.002},{"p":"c","l":"m1","s":9,"x":0.126,"y":0.0016},{"p":"c","l":"m1","s":10,"x":0.13,"y":0.0017},{"p":"c","l":"m1","s":11,"x":0.134,"y":0.0023},{"p":"c","l":"m1","s":12,"x":0.138,"y":0.003},{"p":"c","l":"m1","s":13,"x":0.142,"y":0.004},{"p":"c","l":"m1","s":14,"x":0.146,"y":0.005},{"p":"c","l":"m1","s":15,"x":0.15,"y":0.006},{"p":"c","l":"m1","s":16,"x":0.153,"y":0.0069},
{"p":"c","l":"m2","s":0,"x":0.153,"y":0.00975},{"p":"c","l":"m2","s":1,"x":0.146,"y":0.0082},{"p":"c","l":"m2","s":2,"x":0.14,"y":0.0069},{"p":"c","l":"m2","s":3,"x":0.135,"y":0.0058},{"p":"c","l":"m2","s":4,"x":0.13,"y":0.0046},{"p":"c","l":"m2","s":5,"x":0.127,"y":0.0037},{"p":"c","l":"m2","s":6,"x":0.1255,"y":0.0029},{"p":"c","l":"m2","s":7,"x":0.127,"y":0.0022},{"p":"c","l":"m2","s":8,"x":0.13,"y":0.0022},{"p":"c","l":"m2","s":9,"x":0.134,"y":0.0027},{"p":"c","l":"m2","s":10,"x":0.138,"y":0.0034},{"p":"c","l":"m2","s":11,"x":0.142,"y":0.0044},{"p":"c","l":"m2","s":12,"x":0.146,"y":0.0054},{"p":"c","l":"m2","s":13,"x":0.15,"y":0.0064},{"p":"c","l":"m2","s":14,"x":0.153,"y":0.0073},
{"p":"c","l":"m3","s":0,"x":0.153,"y":0.0094},{"p":"c","l":"m3","s":1,"x":0.146,"y":0.0079},{"p":"c","l":"m3","s":2,"x":0.14,"y":0.0066},{"p":"c","l":"m3","s":3,"x":0.135,"y":0.0055},{"p":"c","l":"m3","s":4,"x":0.131,"y":0.0046},{"p":"c","l":"m3","s":5,"x":0.1295,"y":0.004},{"p":"c","l":"m3","s":6,"x":0.1305,"y":0.0034},{"p":"c","l":"m3","s":7,"x":0.134,"y":0.0031},{"p":"c","l":"m3","s":8,"x":0.138,"y":0.0037},{"p":"c","l":"m3","s":9,"x":0.142,"y":0.0047},{"p":"c","l":"m3","s":10,"x":0.146,"y":0.0057},{"p":"c","l":"m3","s":11,"x":0.15,"y":0.0067},{"p":"c","l":"m3","s":12,"x":0.153,"y":0.0076},
{"p":"c","l":"m4","s":0,"x":0.153,"y":0.009},{"p":"c","l":"m4","s":1,"x":0.148,"y":0.0078},{"p":"c","l":"m4","s":2,"x":0.143,"y":0.0068},{"p":"c","l":"m4","s":3,"x":0.1415,"y":0.0064},{"p":"c","l":"m4","s":4,"x":0.141,"y":0.0062},{"p":"c","l":"m4","s":5,"x":0.1415,"y":0.0059},{"p":"c","l":"m4","s":6,"x":0.144,"y":0.006},{"p":"c","l":"m4","s":7,"x":0.148,"y":0.0068},{"p":"c","l":"m4","s":8,"x":0.153,"y":0.008},
{"p":"c","l":"e1","s":0,"x":0.1349,"y":0.0043},{"p":"c","l":"e1","s":1,"x":0.136,"y":0.0047},{"p":"c","l":"e1","s":2,"x":0.138,"y":0.005},{"p":"c","l":"e1","s":3,"x":0.1398,"y":0.0051},{"p":"c","l":"e1","s":4,"x":0.1408,"y":0.005},{"p":"c","l":"e1","s":5,"x":0.1398,"y":0.0046},{"p":"c","l":"e1","s":6,"x":0.138,"y":0.0043},{"p":"c","l":"e1","s":7,"x":0.136,"y":0.0041},{"p":"c","l":"e1","s":8,"x":0.1349,"y":0.0043},
{"p":"c","l":"V1","s":0,"x":0.1375,"y":0},{"p":"c","l":"V1","s":1,"x":0.1377,"y":0.0011},{"p":"c","l":"V1","s":2,"x":0.138,"y":0.0019},{"p":"c","l":"V1","s":3,"x":0.1385,"y":0.0025},{"p":"c","l":"V1","s":4,"x":0.153,"y":0.0066},
{"p":"c","l":"V2","s":0,"x":0.139,"y":0},{"p":"c","l":"V2","s":1,"x":0.1392,"y":0.0013},{"p":"c","l":"V2","s":2,"x":0.1395,"y":0.0021},{"p":"c","l":"V2","s":3,"x":0.14,"y":0.0028},{"p":"c","l":"V2","s":4,"x":0.153,"y":0.0064},
{"p":"c","l":"V3","s":0,"x":0.1403,"y":0},{"p":"c","l":"V3","s":1,"x":0.1405,"y":0.0013},{"p":"c","l":"V3","s":2,"x":0.1408,"y":0.0022},{"p":"c","l":"V3","s":3,"x":0.1413,"y":0.0029},{"p":"c","l":"V3","s":4,"x":0.153,"y":0.0062},
{"p":"c","l":"V4","s":0,"x":0.1414,"y":0},{"p":"c","l":"V4","s":1,"x":0.1416,"y":0.0014},{"p":"c","l":"V4","s":2,"x":0.1419,"y":0.0023},{"p":"c","l":"V4","s":3,"x":0.1424,"y":0.003},{"p":"c","l":"V4","s":4,"x":0.153,"y":0.006},
{"p":"c","l":"V5","s":0,"x":0.1425,"y":0},{"p":"c","l":"V5","s":1,"x":0.1427,"y":0.0014},{"p":"c","l":"V5","s":2,"x":0.143,"y":0.0023},{"p":"c","l":"V5","s":3,"x":0.1435,"y":0.0031},{"p":"c","l":"V5","s":4,"x":0.153,"y":0.0058},
{"p":"c","l":"V6","s":0,"x":0.1436,"y":0},{"p":"c","l":"V6","s":1,"x":0.1438,"y":0.0014},{"p":"c","l":"V6","s":2,"x":0.1441,"y":0.0024},{"p":"c","l":"V6","s":3,"x":0.1446,"y":0.0032},{"p":"c","l":"V6","s":4,"x":0.153,"y":0.0056},
{"p":"c","l":"V7","s":0,"x":0.1448,"y":0},{"p":"c","l":"V7","s":1,"x":0.145,"y":0.0015},{"p":"c","l":"V7","s":2,"x":0.1453,"y":0.0026},{"p":"c","l":"V7","s":3,"x":0.1458,"y":0.0034},{"p":"c","l":"V7","s":4,"x":0.153,"y":0.0054},
{"p":"c","l":"V8","s":0,"x":0.1462,"y":0},{"p":"c","l":"V8","s":1,"x":0.1464,"y":0.0016},{"p":"c","l":"V8","s":2,"x":0.1467,"y":0.0026},{"p":"c","l":"V8","s":3,"x":0.1472,"y":0.0035},{"p":"c","l":"V8","s":4,"x":0.153,"y":0.0051},
{"p":"c","l":"V9","s":0,"x":0.1478,"y":0},{"p":"c","l":"V9","s":1,"x":0.148,"y":0.0016},{"p":"c","l":"V9","s":2,"x":0.1483,"y":0.0027},{"p":"c","l":"V9","s":3,"x":0.1488,"y":0.0036},{"p":"c","l":"V9","s":4,"x":0.153,"y":0.0048},
{"p":"c","l":"V10","s":0,"x":0.15,"y":0},{"p":"c","l":"V10","s":1,"x":0.1502,"y":0.0017},{"p":"c","l":"V10","s":2,"x":0.1505,"y":0.0029},{"p":"c","l":"V10","s":3,"x":0.151,"y":0.0038},{"p":"c","l":"V10","s":4,"x":0.153,"y":0.0044},
{"p":"c","l":"V11","s":0,"x":0.1522,"y":0},{"p":"c","l":"V11","s":1,"x":0.1524,"y":0.002},{"p":"c","l":"V11","s":2,"x":0.1527,"y":0.0033},{"p":"c","l":"V11","s":3,"x":0.153,"y":0.004},
{"p":"c","l":"d1","s":0,"x":0.1265,"y":0},{"p":"c","l":"d1","s":1,"x":0.1267,"y":0.0005},{"p":"c","l":"d1","s":2,"x":0.1275,"y":0.0008},{"p":"c","l":"d1","s":3,"x":0.1285,"y":0.0009},{"p":"c","l":"d1","s":4,"x":0.1295,"y":0.0008},{"p":"c","l":"d1","s":5,"x":0.1303,"y":0.0005},{"p":"c","l":"d1","s":6,"x":0.1305,"y":0},
{"p":"c","l":"z1","s":0,"x":0.1325,"y":0},{"p":"c","l":"z1","s":1,"x":0.1327,"y":0.001},{"p":"c","l":"z1","s":2,"x":0.1333,"y":0.0018},
{"p":"c","l":"z2","s":0,"x":0.1345,"y":0},{"p":"c","l":"z2","s":1,"x":0.1347,"y":0.0011},{"p":"c","l":"z2","s":2,"x":0.1353,"y":0.002},
{"p":"c","l":"z3","s":0,"x":0.136,"y":0},{"p":"c","l":"z3","s":1,"x":0.1362,"y":0.0012},{"p":"c","l":"z3","s":2,"x":0.1368,"y":0.0022}
]},
"spacing":40,
"vconcat":[
 {"spacing":65,"hconcat":[
  {"title":{"text":"(a) Contour of streamwise velocity","dx":-7},"width":353,"height":261,"transform":[{"filter":"datum.p=='a'"}],"mark":{"type":"line","color":"black","strokeWidth":1.1},
   "encoding":{
    "x":{"field":"x","type":"quantitative","scale":{"domain":[0.105,0.1575],"nice":false,"zero":false},"axis":{"title":"X (m)","values":[0.106,0.108,0.11,0.112,0.114,0.116,0.118,0.12,0.122,0.124,0.126,0.128,0.13,0.132,0.134,0.136,0.138,0.14,0.142,0.144,0.146,0.148,0.15,0.152,0.154,0.156],"labelExpr":"abs(datum.value*100-round(datum.value*100))<0.01 ? format(datum.value,'.3f') : ''","titleX":346,"titleY":10,"titleAlign":"left","titleBaseline":"middle","titleAngle":0}},
    "y":{"field":"y","type":"quantitative","scale":{"domain":[0,0.0392],"nice":false},"axis":{"title":"Y (m)","values":[0,0.002,0.004,0.006,0.008,0.01,0.012,0.014,0.016,0.018,0.02,0.022,0.024,0.026,0.028,0.03,0.032,0.034,0.036,0.038],"labelExpr":"abs(datum.value*100-round(datum.value*100))<0.01 ? format(datum.value,'.3f') : ''","titleX":-9,"titleY":-3,"titleAlign":"right","titleBaseline":"middle","titleAngle":0}},
    "detail":{"field":"l"},"order":{"field":"s","type":"quantitative"}}},
  {"title":{"text":"(b) Contour of normal velocity","dx":-18},"width":353,"height":261,"transform":[{"filter":"datum.p=='b'"}],"mark":{"type":"line","color":"black","strokeWidth":1.1},
   "encoding":{
    "x":{"field":"x","type":"quantitative","scale":{"domain":[0.105,0.1575],"nice":false,"zero":false},"axis":{"title":"X (m)","values":[0.106,0.108,0.11,0.112,0.114,0.116,0.118,0.12,0.122,0.124,0.126,0.128,0.13,0.132,0.134,0.136,0.138,0.14,0.142,0.144,0.146,0.148,0.15,0.152,0.154,0.156],"labelExpr":"abs(datum.value*100-round(datum.value*100))<0.01 ? format(datum.value,'.3f') : ''","titleX":346,"titleY":10,"titleAlign":"left","titleBaseline":"middle","titleAngle":0}},
    "y":{"field":"y","type":"quantitative","scale":{"domain":[0,0.0392],"nice":false},"axis":{"title":"Y (m)","values":[0,0.002,0.004,0.006,0.008,0.01,0.012,0.014,0.016,0.018,0.02,0.022,0.024,0.026,0.028,0.03,0.032,0.034,0.036,0.038],"labelExpr":"abs(datum.value*100-round(datum.value*100))<0.01 ? format(datum.value,'.3f') : ''","titleX":-9,"titleY":-3,"titleAlign":"right","titleBaseline":"middle","titleAngle":0}},
    "detail":{"field":"l"},"order":{"field":"s","type":"quantitative"}}}
 ]},
 {"spacing":65,"hconcat":[
  {"title":{"text":"(c) Contour of pressure","dx":-7},"width":353,"height":261,"transform":[{"filter":"datum.p=='c'"}],"mark":{"type":"line","color":"black","strokeWidth":1.1},
   "encoding":{
    "x":{"field":"x","type":"quantitative","scale":{"domain":[0.105,0.1575],"nice":false,"zero":false},"axis":{"title":"X (m)","values":[0.106,0.108,0.11,0.112,0.114,0.116,0.118,0.12,0.122,0.124,0.126,0.128,0.13,0.132,0.134,0.136,0.138,0.14,0.142,0.144,0.146,0.148,0.15,0.152,0.154,0.156],"labelExpr":"abs(datum.value*100-round(datum.value*100))<0.01 ? format(datum.value,'.3f') : ''","titleX":346,"titleY":10,"titleAlign":"left","titleBaseline":"middle","titleAngle":0}},
    "y":{"field":"y","type":"quantitative","scale":{"domain":[0,0.0392],"nice":false},"axis":{"title":"Y (m)","values":[0,0.002,0.004,0.006,0.008,0.01,0.012,0.014,0.016,0.018,0.02,0.022,0.024,0.026,0.028,0.03,0.032,0.034,0.036,0.038],"labelExpr":"abs(datum.value*100-round(datum.value*100))<0.01 ? format(datum.value,'.3f') : ''","titleX":-9,"titleY":-3,"titleAlign":"right","titleBaseline":"middle","titleAngle":0}},
    "detail":{"field":"l"},"order":{"field":"s","type":"quantitative"}}},
  {"title":{"text":"(d) Contour of temperature","dx":-13},"width":353,"height":261,"transform":[{"filter":"datum.p=='d'"}],"mark":{"type":"line","color":"black","strokeWidth":1.1},
   "encoding":{
    "x":{"field":"x","type":"quantitative","scale":{"domain":[0.105,0.1575],"nice":false,"zero":false},"axis":{"title":"X (m)","values":[0.106,0.108,0.11,0.112,0.114,0.116,0.118,0.12,0.122,0.124,0.126,0.128,0.13,0.132,0.134,0.136,0.138,0.14,0.142,0.144,0.146,0.148,0.15,0.152,0.154,0.156],"labelExpr":"abs(datum.value*100-round(datum.value*100))<0.01 ? format(datum.value,'.3f') : ''","titleX":346,"titleY":10,"titleAlign":"left","titleBaseline":"middle","titleAngle":0}},
    "y":{"field":"y","type":"quantitative","scale":{"domain":[0,0.0392],"nice":false},"axis":{"title":"Y (m)","values":[0,0.002,0.004,0.006,0.008,0.01,0.012,0.014,0.016,0.018,0.02,0.022,0.024,0.026,0.028,0.03,0.032,0.034,0.036,0.038],"labelExpr":"abs(datum.value*100-round(datum.value*100))<0.01 ? format(datum.value,'.3f') : ''","titleX":-9,"titleY":-3,"titleAlign":"right","titleBaseline":"middle","titleAngle":0}},
    "detail":{"field":"l"},"order":{"field":"s","type":"quantitative"}}}
 ]}
]
}
